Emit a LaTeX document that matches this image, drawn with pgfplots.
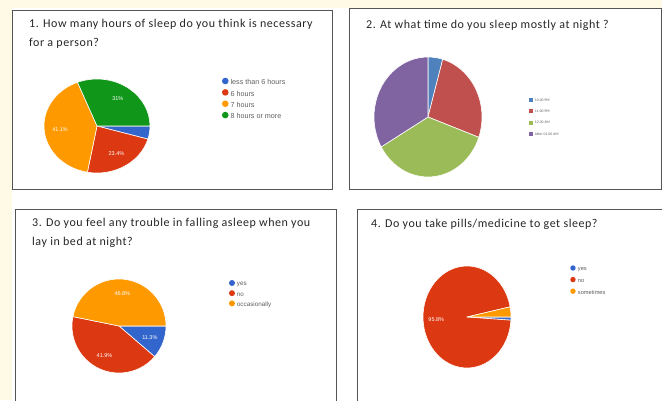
\documentclass[border=0pt]{standalone}
\usepackage{pgfplots}
\pgfplotsset{compat=1.18}
\usepackage{pgfplotstable}
\usepackage{fontspec}
\setmainfont{Carlito}
\newfontfamily\titlefamily[LetterSpace=4.6]{Carlito}
\newfontfamily\legendfont{Liberation Sans}

\definecolor{cream}{HTML}{FFFAE6}
\definecolor{frame}{HTML}{555555}
\definecolor{titletext}{HTML}{262626}
\definecolor{legendgray}{HTML}{606060}
% Google Forms palette
\definecolor{gblue}{HTML}{3366CC}
\definecolor{gred}{HTML}{DC3912}
\definecolor{gorange}{HTML}{FF9900}
\definecolor{ggreen}{HTML}{109618}
% spreadsheet palette
\definecolor{xblue}{HTML}{4F81BD}
\definecolor{xred}{HTML}{C0504D}
\definecolor{xgreen}{HTML}{9BBB59}
\definecolor{xpurple}{HTML}{8064A2}

% shares in percent, in drawing order (clockwise)
\pgfplotstableread{
value colour
4.5   gblue
23.4  gred
41.1  gorange
31    ggreen
}\hourstable

\pgfplotstableread{
value colour
4.4   xblue
26.1  xred
36.2  xgreen
33.3  xpurple
}\bedtimetable

\pgfplotstableread{
value colour
11.3  gblue
41.9  gred
46.8  gorange
}\troubletable

\pgfplotstableread{
value colour
1.0   gblue
95.8  gred
3.2   gorange
}\pillstable

% #1 table, #2 start angle, #3 x radius, #4 y radius, #5 smallest share that gets a label
\newcommand\pieslices[5]{%
  \pgfplotstablegetrowsof{#1}%
  \pgfmathtruncatemacro\lastrow{\pgfplotsretval-1}%
  \edef\startangle{#2}%
  \pgfplotsforeachungrouped \row in {0,...,\lastrow}{%
    \pgfplotstablegetelem{\row}{value}\of{#1}\let\share\pgfplotsretval
    \pgfplotstablegetelem{\row}{colour}\of{#1}\let\slicecol\pgfplotsretval
    \pgfmathsetmacro\stopangle{\startangle-3.6*\share}%
    \pgfmathsetmacro\midangle{(\startangle+\stopangle)/2}%
    \edef\slice{\noexpand\fill[\slicecol, draw=white, line width=0.6pt, line join=round]
      (axis cs:0,0) -- (axis cs:{cos(\startangle)},{sin(\startangle)})
      arc[start angle=\startangle, end angle=\stopangle, x radius=#3, y radius=#4] -- cycle;}%
    \slice
    \pgfmathtruncatemacro\haslabel{\share>#5}%
    \ifnum\haslabel=1
      \edef\slicelabel{\noexpand\node[slice label] at (axis cs:{0.7*cos(\midangle)},{0.7*sin(\midangle)}) {\share\noexpand\%};}%
      \slicelabel
    \fi
    \let\startangle\stopangle
  }%
}

\pgfplotsset{
  pie axis/.style={
    hide axis, clip=false, anchor=origin,
    xmin=-1, xmax=1, ymin=-1, ymax=1,
    legend cell align=left,
    legend style={anchor=north west, draw=none, fill=none,
      inner sep=0pt, outer sep=0pt, column sep=2pt,
      nodes={inner sep=0pt, text=legendgray}},
  },
  gdot/.style 2 args={legend image code/.code={%
    \path[draw=none, fill=none] (0pt,-2pt) rectangle (6pt,6pt);
    \fill[#2, draw=none] (3pt,2pt) circle[radius=#1];}},
  xsquare/.style={legend image code/.code={%
    \path[draw=none, fill=none] (0pt,-3pt) rectangle (4pt,5pt);
    \fill[#1, draw=none] (0pt,-1.1pt) rectangle (4pt,2.9pt);}},
}
\tikzset{slice label/.style={text=white, font=\legendfont\fontsize{5.5}{6}\selectfont, inner sep=0pt}}
\newcommand\titlefont{\color{titletext}\titlefamily\fontsize{12}{14}\selectfont}

\begin{document}
\begin{tikzpicture}[x=1pt, y=1pt]
\useasboundingbox (0,0) rectangle (662,400);
\clip (0,0) rectangle (662,400);
\fill[cream] (0,0) rectangle (662,400);
\fill[white] (12,0) rectangle (662,392);

% panel frames
\draw[frame, line width=0.9pt] (12,211) rectangle (332,390);
\draw[frame, line width=0.9pt] (349,211) rectangle (661,392);
\draw[frame, line width=0.9pt] (15,-5) rectangle (336,191);
\draw[frame, line width=0.9pt] (357,-5) rectangle (667,191);

% questions
\node[anchor=base west, inner sep=0pt] at (29,372) {\titlefont 1. How many hours of sleep do you think is necessary};
\node[anchor=base west, inner sep=0pt] at (29,353) {\titlefont for a person?};
\node[anchor=base west, inner sep=0pt] at (366,371) {\titlefont 2. At what time do you sleep mostly at night ?};
\node[anchor=base west, inner sep=0pt] at (32,173.3) {\titlefont 3. Do you feel any trouble in falling asleep when you};
\node[anchor=base west, inner sep=0pt] at (32,155) {\titlefont lay in bed at night?};
\node[anchor=base west, inner sep=0pt] at (371,173) {\titlefont 4. Do you take pills/medicine to get sleep?};

% 1. hours of sleep
\begin{axis}[pie axis, x=53pt, y=47pt, at={(97pt,274pt)},
  legend style={at={(1.679,1.021)}, row sep=2pt, font=\legendfont\fontsize{7.2}{8}\selectfont}]
  \pieslices{\hourstable}{0}{53pt}{47pt}{5}
  \addlegendimage{gdot={3.3pt}{gblue}}\addlegendentry{less than 6 hours}
  \addlegendimage{gdot={3.3pt}{gred}}\addlegendentry{6 hours}
  \addlegendimage{gdot={3.3pt}{gorange}}\addlegendentry{7 hours}
  \addlegendimage{gdot={3.3pt}{ggreen}}\addlegendentry{8 hours or more}
\end{axis}

% 2. bedtime
\begin{axis}[pie axis, x=54pt, y=60pt, at={(428pt,283pt)},
  legend style={at={(1.435,0.676)}, row sep=3.3pt, font=\fontsize{3.8}{4.5}\selectfont}]
  \pieslices{\bedtimetable}{90}{54pt}{60pt}{101}
  \addlegendimage{xsquare, xblue}\addlegendentry{10.00 PM}
  \addlegendimage{xsquare, xred}\addlegendentry{11.00 PM}
  \addlegendimage{xsquare, xgreen}\addlegendentry{12.00 AM}
  \addlegendimage{xsquare, xpurple}\addlegendentry{After 01.00 AM}
\end{axis}

% 3. trouble falling asleep
\begin{axis}[pie axis, x=47pt, y=47pt, at={(119pt,74pt)},
  legend style={at={(1.670,1.0)}, row sep=1.75pt, font=\legendfont\fontsize{6.3}{7}\selectfont}]
  \pieslices{\troubletable}{0}{47pt}{47pt}{5}
  \addlegendimage{gdot={3pt}{gblue}}\addlegendentry{yes}
  \addlegendimage{gdot={3pt}{gred}}\addlegendentry{no}
  \addlegendimage{gdot={3pt}{gorange}}\addlegendentry{occasionally}
\end{axis}

% 4. sleeping pills
\begin{axis}[pie axis, x=44pt, y=51pt, at={(467pt,83pt)},
  legend style={at={(1.670,1.0196)}, row sep=3.3pt, font=\legendfont\fontsize{5.7}{6.5}\selectfont}]
  \pieslices{\pillstable}{0}{44pt}{51pt}{5}
  \addlegendimage{gdot={2.7pt}{gblue}}\addlegendentry{yes}
  \addlegendimage{gdot={2.7pt}{gred}}\addlegendentry{no}
  \addlegendimage{gdot={2.7pt}{gorange}}\addlegendentry{sometimes}
\end{axis}
\end{tikzpicture}
\end{document}
